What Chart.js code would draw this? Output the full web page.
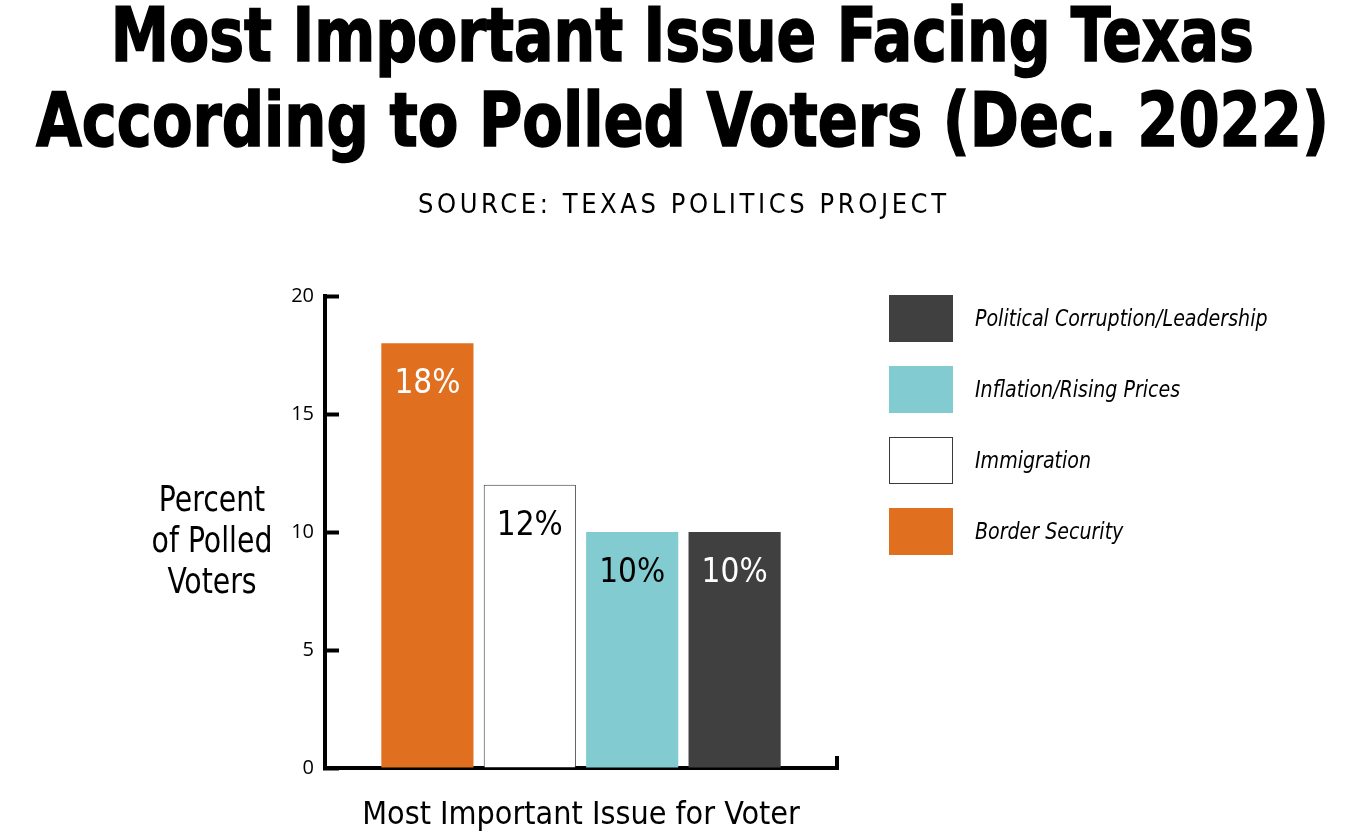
<!DOCTYPE html>
<html>
<head>
<meta charset="utf-8">
<script src="https://cdn.jsdelivr.net/npm/chart.js@4.4.0/dist/chart.umd.min.js"></script>
<style>
  html, body { margin: 0; padding: 0; background: #ffffff; width: 1364px; height: 840px; overflow: hidden; }
  #wrap { position: relative; width: 1364px; height: 840px; overflow: hidden; }
  #chart { position: absolute; left: 0; top: 0; }
  .narrow { font-family: "Liberation Sans Narrow", "DejaVu Sans Condensed", "Arial Narrow", sans-serif; }
  .line { position: absolute; left: -1000px; width: 3364px; text-align: center; white-space: nowrap; line-height: 1; color: #000; }
  .line span { display: inline-block; transform-origin: 50% 50%; }
  #t1 { top: -2px; font-size: 74px; font-weight: bold; -webkit-text-stroke: 1.5px #000; }
  #t2 { top: 83px; font-size: 74px; font-weight: bold; -webkit-text-stroke: 1.5px #000; }
  #sub { top: 190px; font-size: 27px; }
  #ytitle { position: absolute; left: 112px; width: 200px; top: 479px; text-align: center; font-size: 35px; line-height: 41px; color: #000; transform: scaleX(0.9); transform-origin: 50% 50%; }
  #legend { position: absolute; left: 889px; top: 295px; }
  .li { position: absolute; left: 0; height: 47px; width: 460px; }
  .lb { position: absolute; left: 0; top: 0; width: 64px; height: 47px; box-sizing: border-box; }
  .lt { position: absolute; left: 86px; top: 0; height: 47px; line-height: 47px; font-size: 23px; font-style: italic; color: #000; white-space: nowrap; transform: scaleX(0.92); transform-origin: 0 50%; }
</style>
</head>
<body>
<div id="wrap">
  <canvas id="chart" width="1364" height="840"></canvas>
  <div id="t1" class="line narrow"><span>Most Important Issue Facing Texas</span></div>
  <div id="t2" class="line narrow"><span>According to Polled Voters (Dec. 2022)</span></div>
  <div id="sub" class="line narrow"><span>SOURCE: TEXAS POLITICS PROJECT</span></div>
  <div id="ytitle" class="narrow">Percent<br>of Polled<br>Voters</div>
  <div id="legend" class="narrow"></div>
</div>
<script>
// ---------------- data ----------------
const categories = ['Border Security', 'Immigration', 'Inflation/Rising Prices', 'Political Corruption/Leadership'];
const values = [18, 12, 10, 10];
const valueLabels = ['18%', '12%', '10%', '10%'];
const groupLabels = ['Most Important Issue for Voter'];
const yTicks = [0, 5, 10, 15, 20];
const barColors = ['#E07020', '#FFFFFF', '#82CBD0', '#404040'];
const barBorderColors = ['#E07020', '#3A3A3A', '#82CBD0', '#404040'];
const valueLabelColors = ['#FFFFFF', '#000000', '#000000', '#FFFFFF'];

const NARROW = '"Liberation Sans Narrow", "DejaVu Sans Condensed", "Arial Narrow", sans-serif';
const TICKFONT = '"Open Sans", "Noto Sans", sans-serif';

// ---------------- fit header text widths ----------------
function fitWidth(id, target) {
  const sp = document.querySelector('#' + id + ' span');
  const w = sp.getBoundingClientRect().width;
  sp.style.transform = 'scaleX(' + (target / w) + ')';
}
fitWidth('t1', 1143);
fitWidth('t2', 1293);
(function () {
  const sp = document.querySelector('#sub span');
  const w0 = sp.getBoundingClientRect().width;
  const n = sp.textContent.length;
  const ls = (528 - w0) / (n - 1);
  sp.style.letterSpacing = ls + 'px';
  sp.style.marginRight = (-ls) + 'px';
})();

// ---------------- plugins ----------------
const valueLabelPlugin = {
  id: 'valueLabels',
  afterDatasetsDraw(chart) {
    const ctx = chart.ctx;
    chart.data.datasets.forEach((ds, i) => {
      const meta = chart.getDatasetMeta(i);
      meta.data.forEach((bar) => {
        ctx.save();
        ctx.font = '33px ' + NARROW;
        ctx.fillStyle = valueLabelColors[i];
        ctx.textAlign = 'center';
        ctx.textBaseline = 'alphabetic';
        ctx.fillText(valueLabels[i], bar.x, bar.y + 50);
        ctx.restore();
      });
    });
  }
};
const axisEndCap = {
  id: 'axisEndCap',
  afterDraw(chart) {
    const a = chart.chartArea;
    const ctx = chart.ctx;
    ctx.save();
    ctx.fillStyle = '#000';
    ctx.fillRect(a.right - 2, a.bottom - 12, 4, 14);
    ctx.restore();
  }
};

// ---------------- chart ----------------
const datasets = categories.map((c, i) => ({
  label: c,
  data: [values[i]],
  backgroundColor: barColors[i],
  borderColor: barBorderColors[i],
  borderWidth: i === 1 ? 1 : 0,
  barPercentage: 0.9,
  categoryPercentage: 0.8
}));

const chart = new Chart(document.getElementById('chart'), {
  type: 'bar',
  data: { labels: groupLabels, datasets: datasets },
  options: {
    responsive: false,
    animation: false,
    devicePixelRatio: 1,
    layout: { padding: { left: 0, top: 296, right: 527, bottom: 0 } },
    plugins: {
      legend: { display: false },
      title: { display: false },
      tooltip: { enabled: false }
    },
    scales: {
      x: {
        z: 1,
        grid: { display: false, drawTicks: false },
        border: { display: true, color: '#000', width: 4 },
        ticks: { display: false },
        title: {
          display: true,
          text: groupLabels[0],
          color: '#000',
          font: { family: NARROW, size: 32 },
          padding: { top: 0, bottom: 5 }
        },
        afterFit(s) { s.height = 72; }
      },
      y: {
        z: 1,
        min: 0,
        max: 20,
        afterBuildTicks(s) { s.ticks = yTicks.map(v => ({ value: v })); },
        grid: { display: true, drawOnChartArea: false, drawTicks: true, tickLength: -14, tickWidth: 4, tickColor: '#000' },
        border: { display: true, color: '#000', width: 4 },
        ticks: { color: '#000', padding: 25, font: { family: TICKFONT, size: 20 } },
        afterFit(s) { s.width = 325; }
      }
    }
  },
  plugins: [valueLabelPlugin, axisEndCap]
});

// ---------------- legend (HTML, built from the chart's datasets, reversed) ----------------
const legendEl = document.getElementById('legend');
const items = chart.data.datasets.map((ds, i) => ({ text: ds.label, fill: ds.backgroundColor, stroke: ds.borderColor, bw: ds.borderWidth })).reverse();
items.forEach((it, k) => {
  const li = document.createElement('div');
  li.className = 'li';
  li.style.top = (k * 71) + 'px';
  const b = document.createElement('div');
  b.className = 'lb';
  b.style.background = it.fill;
  if (it.bw) b.style.border = '1px solid ' + it.stroke;
  const t = document.createElement('div');
  t.className = 'lt';
  t.textContent = it.text;
  li.appendChild(b); li.appendChild(t);
  legendEl.appendChild(li);
});
</script>
</body>
</html>
